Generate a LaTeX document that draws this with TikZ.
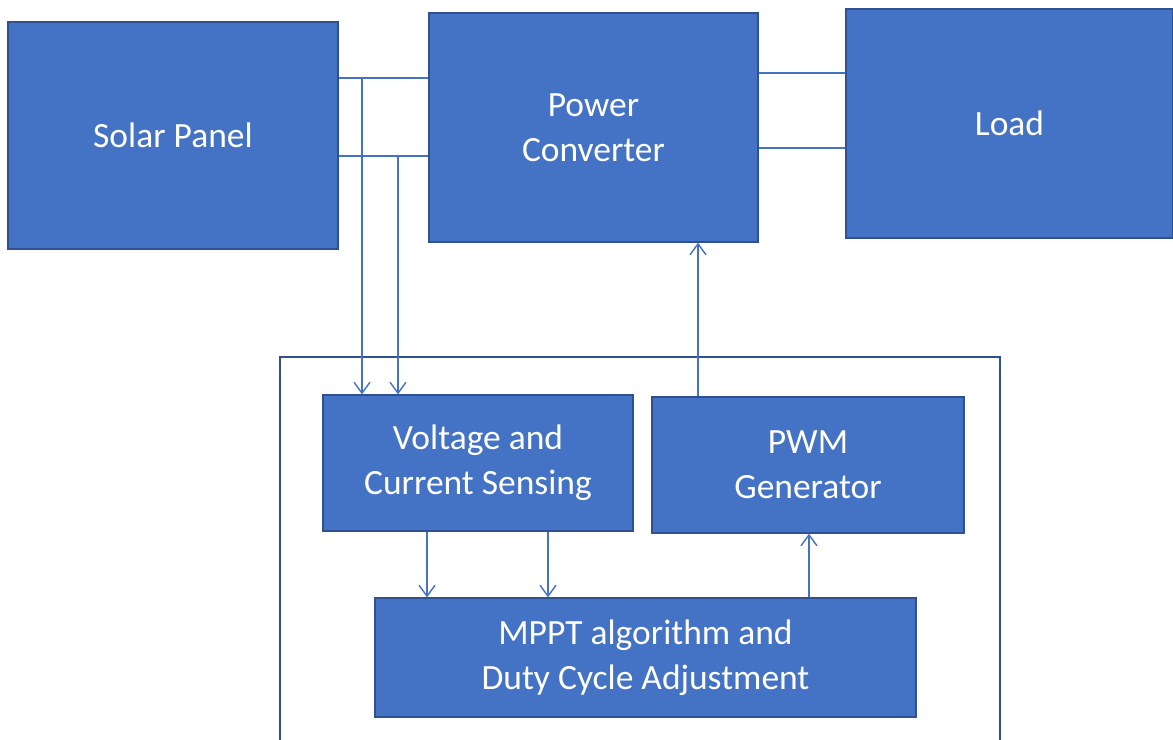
\documentclass[tikz,border=0pt]{standalone}
\usepackage{fontspec}
\setmainfont{Carlito}
\usetikzlibrary{arrows.meta}
\definecolor{boxblue}{HTML}{4472C4}
\definecolor{edgeblue}{HTML}{2F528F}

\begin{document}
\begin{tikzpicture}[x=0.02cm, y=-0.02cm,
  block/.style={draw=edgeblue, fill=boxblue, text=white, line width=0.7pt,
    font=\fontsize{20.2}{25.6}\selectfont, align=center, inner sep=0pt},
  wire/.style={draw=boxblue, line width=0.8pt},
  >={Straight Barb[length=2.2mm,width=3.2mm]}]
  \useasboundingbox (0,0) rectangle (1173,740);
  % controller frame
  \draw[edgeblue, line width=0.8pt] (280,745) -- (280,357) -- (1000,357) -- (1000,745);
  % power path
  \node[block, minimum width=6.6cm, minimum height=4.54cm] (solar) at (173,135.5) {Solar Panel};
  \node[block, minimum width=6.58cm, minimum height=4.58cm] (conv) at (593.5,127.5) {Power\\Converter};
  \node[block, minimum width=6.54cm, minimum height=4.58cm] (load) at (1009.5,123.5) {Load};
  % control blocks
  \node[block, minimum width=6.2cm, minimum height=2.72cm] (sense) at (478,463) {Voltage and\\Current Sensing};
  \node[block, minimum width=6.24cm, minimum height=2.72cm] (pwm) at (808,465) {PWM\\Generator};
  \node[block, minimum width=10.82cm, minimum height=2.38cm] (mppt) at (645.5,657.5) {MPPT algorithm and\\Duty Cycle Adjustment};
  % solar panel to converter
  \foreach \y in {78,156}
    \draw[wire] (solar.east |- 0,\y) -- (conv.west |- 0,\y);
  % converter to load
  \foreach \y in {73,148}
    \draw[wire] (conv.east |- 0,\y) -- (load.west |- 0,\y);
  % sensing taps
  \coordinate (tapv) at (362,78);
  \coordinate (tapi) at (398,156);
  \draw[wire,->] (tapv) -- (tapv |- sense.north);
  \draw[wire,->] (tapi) -- (tapi |- sense.north);
  % sensing to mppt
  \foreach \x in {427,548}
    \draw[wire,->] (sense.south -| \x,0) -- (mppt.north -| \x,0);
  % mppt to pwm, pwm to converter
  \draw[wire,->] (mppt.north -| 809,0) -- (pwm.south -| 809,0);
  \draw[wire,->] (pwm.north -| 698,0) -- (conv.south -| 698,0);
\end{tikzpicture}
\end{document}
